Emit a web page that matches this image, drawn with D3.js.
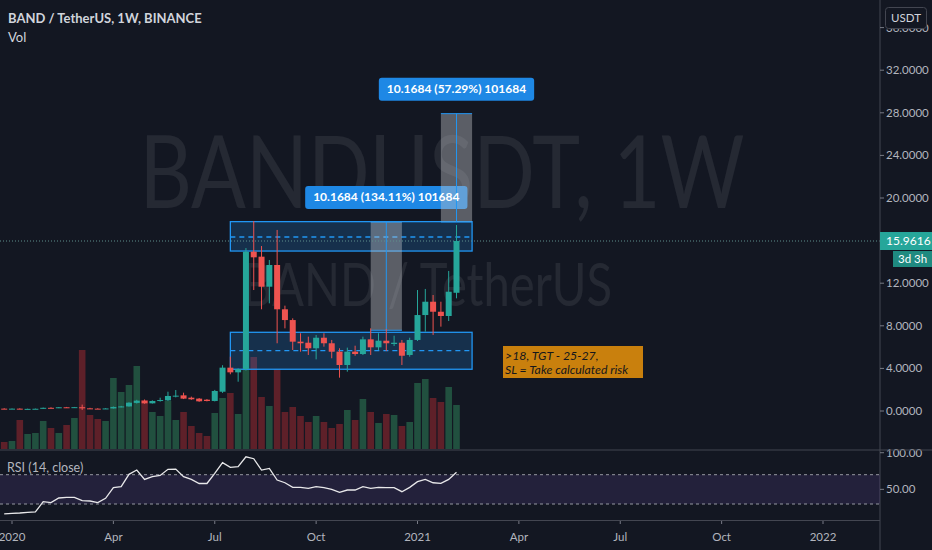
<!DOCTYPE html>
<html><head><meta charset="utf-8">
<script src="https://cdn.jsdelivr.net/npm/d3@7"></script>
<style>html,body{margin:0;padding:0;background:#131722;overflow:hidden}svg{display:block}</style>
</head><body><svg id="c" width="932" height="550"></svg>
<script>
// ---------- DATA ----------
const dates = ["2019-12-30","2020-01-06","2020-01-13","2020-01-20","2020-01-27","2020-02-03","2020-02-10","2020-02-17","2020-02-24","2020-03-02",
"2020-03-09","2020-03-16","2020-03-23","2020-03-30","2020-04-06","2020-04-13","2020-04-20","2020-04-27","2020-05-04","2020-05-11",
"2020-05-18","2020-05-25","2020-06-01","2020-06-08","2020-06-15","2020-06-22","2020-06-29","2020-07-06","2020-07-13","2020-07-20",
"2020-07-27","2020-08-03","2020-08-10","2020-08-17","2020-08-24","2020-08-31","2020-09-07","2020-09-14","2020-09-21","2020-09-28",
"2020-10-05","2020-10-12","2020-10-19","2020-10-26","2020-11-02","2020-11-09","2020-11-16","2020-11-23","2020-11-30","2020-12-07",
"2020-12-14","2020-12-21","2020-12-28","2021-01-04","2021-01-11","2021-01-18","2021-01-25","2021-02-01","2021-02-08"];
const open  = [0.22,0.20,0.22,0.18,0.20,0.21,0.30,0.28,0.35,0.32, 0.36,0.25,0.22,0.20,0.24,0.38,0.43,0.76,0.97,0.72,
               0.94,1.00,1.36,1.47,1.25,1.16,1.06,0.94,1.81,4.07, 3.63,3.94,14.96,14.49,11.67,13.71,9.55,8.54,6.51,6.41,
               5.89,6.88,6.36,5.57,4.32,5.57,5.35,6.73,5.98,6.60, 6.29,6.41,5.26,6.67,9.01,10.26,9.32,8.92,11.10];
const high  = [0.26,0.24,0.25,0.22,0.23,0.32,0.35,0.37,0.38,0.38, 0.60,0.30,0.26,0.26,0.42,0.48,0.82,1.05,1.08,1.00,
               1.25,1.81,1.97,1.72,1.35,1.22,1.12,1.98,4.30,5.10, 4.00,15.30,17.84,15.49,14.18,17.00,9.89,8.70,7.30,6.98,
               7.14,7.30,6.67,5.89,5.95,6.13,6.98,7.76,7.30,7.70, 7.07,6.67,6.88,11.36,11.46,10.89,10.26,13.15,17.46];
const low   = [0.18,0.18,0.17,0.17,0.19,0.20,0.26,0.27,0.30,0.31, 0.10,0.20,0.19,0.19,0.23,0.34,0.41,0.70,0.68,0.70,
               0.88,0.95,1.28,1.12,1.05,0.86,0.90,0.90,1.70,3.45, 2.75,3.80,11.36,9.55,10.11,6.36,7.76,5.73,5.57,5.26,
               4.85,6.04,4.95,3.13,3.69,5.19,5.26,5.26,5.73,5.63, 6.10,4.32,5.10,6.57,7.45,7.14,7.92,8.45,10.58];
const close = [0.20,0.22,0.18,0.20,0.21,0.30,0.28,0.35,0.32,0.36, 0.25,0.22,0.20,0.24,0.38,0.43,0.78,0.97,0.72,0.94,
               1.03,1.41,1.44,1.16,1.10,0.91,0.94,1.88,4.07,3.63, 3.94,14.96,14.43,11.67,13.71,9.55,8.54,6.51,6.36,5.89,
               6.88,6.36,5.57,4.32,5.57,5.35,6.73,5.98,6.60,6.36, 6.41,5.19,6.67,9.01,10.26,9.32,8.92,11.20,15.9616];
const volume = [7,8,29,15,16,28,21,16,24,31, 99,34,30,28,71,57,64,83,49,37,
                33,48,29,37,23,16,13,36,51,56, 35,97,92,52,43,80,37,42,33,27,
                33,27,21,25,39,29,50,37,26,35, 34,23,27,66,70,51,47,62,44];
const rsi = [16.4,17.3,17.7,18.6,19.1,33.2,31.8,38.2,39.1,39.1, 34.5,34.1,31.8,37.7,52.3,53.6,70.5,76.4,63.6,67.3,
             69,77.3,77.7,67.3,63.6,58,58,71.8,86.4,80, 80.9,94.5,91.8,76.4,78.6,62.7,59,52.7,52.7,51.4,
             53.6,52.3,50,45.9,49.1,49.1,53.6,51.4,52.7,52.3, 52.3,46.8,52.7,60.5,63.6,59,58.2,63.6,73.2];
const priceTicks = [0,4,8,12,20,24,28,32,36];
const rsiTicks = [100,50];
const rsiBands = [70,30];
const timeTickDates = ["2020-01-06","2020-04-06","2020-07-06","2020-10-05","2021-01-04","2021-04-05","2021-07-05","2021-10-04","2022-01-03"];
const timeTickLabels = ["2020","Apr","Jul","Oct","2021","Apr","Jul","Oct","2022"];
// support / resistance zones
const zoneStart = ["2020-07-20","2020-07-20"];
const zoneEnd   = ["2021-02-22","2021-02-22"];
const zoneTop    = [17.78, 7.39];
const zoneBottom = [15.02, 3.92];
const zoneMid    = [16.34, 5.66];
// measure ranges
const rangeStart = ["2020-11-23","2021-01-25"];
const rangeEnd   = ["2020-12-21","2021-02-22"];
const rangeMid   = ["2020-12-07","2021-02-08"];
const rangeLow   = [7.58, 17.75];
const rangeHigh  = [17.75, 27.92];
const rangeLabels = ["10.1684 (134.11%) 101684","10.1684 (57.29%) 101684"];
const lastPrice = 15.9616;
const noteLines = [">18, TGT - 25-27,","SL = Take calculated risk"];

// ---------- SETUP ----------
const W=932,H=550, axisX=880;
const svg=d3.select("#c");
const parse=d3.utcParse("%Y-%m-%d");
const FONT="Lato, 'Noto Sans', sans-serif";
const up="#26a69a", dn="#ef5350";
const x=d3.scaleUtc().domain([parse("2020-01-06"),parse("2022-01-03")]).range([12,823]);
const y=d3.scaleLinear().domain([0,36]).range([411,27.6]);
const yv=d3.scaleLinear().domain([0,100]).range([449,349]);
const yr=d3.scaleLinear().domain([30,70]).range([504,474.7]);
const data=dates.map((d,i)=>({d:parse(d),o:open[i],h:high[i],l:low[i],c:close[i],v:volume[i],r:rsi[i]}));

svg.append("rect").attr("width",W).attr("height",H).attr("fill","#131722");

// watermark
svg.append("text").attr("x",442).attr("y",208).attr("text-anchor","middle")
  .attr("font-family",FONT).attr("font-size",100).attr("fill","rgba(255,255,255,0.08)")
  .attr("textLength",605).attr("lengthAdjust","spacingAndGlyphs").text("BANDUSDT, 1W");
svg.append("text").attr("x",427).attr("y",306).attr("text-anchor","middle")
  .attr("font-family",FONT).attr("font-size",60).attr("fill","rgba(255,255,255,0.08)")
  .attr("textLength",370).attr("lengthAdjust","spacingAndGlyphs").text("BAND / TetherUS");

// volume
svg.append("g").selectAll("rect").data(data).join("rect")
  .attr("x",d=>x(d.d)-3.3).attr("width",6.6)
  .attr("y",d=>yv(d.v)).attr("height",d=>yv(0)-yv(d.v))
  .attr("fill",d=>d.c>=d.o?"#21503f":"#5e2029");

// zones
const zg=svg.append("g");
zoneTop.forEach((t,i)=>{
  const x0=x(parse(zoneStart[i])), x1=x(parse(zoneEnd[i]));
  zg.append("rect").attr("x",x0).attr("y",y(t)).attr("width",x1-x0).attr("height",y(zoneBottom[i])-y(t))
    .attr("fill","rgba(33,150,243,0.2)").attr("stroke","#2196f3").attr("stroke-width",1.3);
  zg.append("line").attr("x1",x0).attr("x2",x1).attr("y1",y(zoneMid[i])).attr("y2",y(zoneMid[i]))
    .attr("stroke","#2196f3").attr("stroke-width",1.3).attr("stroke-dasharray","5,4");
});

// ranges
const rg=svg.append("g");
rangeLow.forEach((lo,i)=>{
  const x0=x(parse(rangeStart[i])), x1=x(parse(rangeEnd[i])), xm=x(parse(rangeMid[i]));
  rg.append("rect").attr("x",x0).attr("y",y(rangeHigh[i])).attr("width",x1-x0).attr("height",y(lo)-y(rangeHigh[i]))
    .attr("fill","rgba(190,192,198,0.42)");
  rg.append("line").attr("x1",xm).attr("x2",xm).attr("y1",y(rangeHigh[i])).attr("y2",y(lo)).attr("stroke","#2196f3").attr("stroke-width",1);
  rg.append("line").attr("x1",x0).attr("x2",x1).attr("y1",y(rangeHigh[i])).attr("y2",y(rangeHigh[i])).attr("stroke","#2196f3").attr("stroke-width",1);
  rg.append("line").attr("x1",x0).attr("x2",x1).attr("y1",y(lo)).attr("y2",y(lo)).attr("stroke","#2196f3").attr("stroke-width",1);
  const ly=y(rangeHigh[i])-13;
  const t=rg.append("text").attr("x",xm).attr("y",ly-7.5).attr("text-anchor","middle")
    .attr("font-family",FONT).attr("font-size",12).attr("font-weight",700).attr("fill","#fff").text(rangeLabels[i]);
  const bw=t.node().getComputedTextLength()+16;
  rg.insert("rect","text").attr("x",xm-bw/2).attr("y",ly-23).attr("width",bw).attr("height",23).attr("rx",3).attr("fill","#1e88e5");
});
rg.selectAll("text").raise();

// last price line
svg.append("line").attr("x1",0).attr("x2",axisX).attr("y1",y(lastPrice)).attr("y2",y(lastPrice))
  .attr("stroke","#5f8f8c").attr("stroke-width",1).attr("stroke-dasharray","1,2");

// candles
const cg=svg.append("g");
cg.selectAll("line").data(data).join("line")
  .attr("x1",d=>x(d.d)).attr("x2",d=>x(d.d)).attr("y1",d=>y(d.h)).attr("y2",d=>y(d.l))
  .attr("stroke",d=>d.c>=d.o?up:dn).attr("stroke-width",1);
cg.selectAll("rect").data(data).join("rect")
  .attr("x",d=>x(d.d)-3).attr("width",6)
  .attr("y",d=>y(Math.max(d.o,d.c))).attr("height",d=>Math.max(1,Math.abs(y(d.o)-y(d.c))))
  .attr("fill",d=>d.c>=d.o?up:dn);

// note box
const ng=svg.append("g");
ng.append("rect").attr("x",503).attr("y",346).attr("width",140).attr("height",32).attr("fill","#c9800d");
noteLines.forEach((s,i)=>ng.append("text").attr("x",505).attr("y",359.5+i*14)
  .attr("font-family",FONT).attr("font-size",12.3).attr("font-style","italic").attr("fill","#15171c").text(s));

// separators
svg.append("line").attr("x1",0).attr("x2",axisX).attr("y1",520.5).attr("y2",520.5).attr("stroke","#434651");
svg.append("line").attr("x1",axisX).attr("x2",axisX).attr("y1",0).attr("y2",H).attr("stroke","#434651");

// RSI pane
svg.append("rect").attr("x",0).attr("width",axisX).attr("y",yr(70)).attr("height",yr(30)-yr(70)).attr("fill","rgba(126,87,194,0.16)");
rsiBands.forEach(v=>svg.append("line").attr("x1",0).attr("x2",axisX).attr("y1",yr(v)).attr("y2",yr(v))
  .attr("stroke","#9598a1").attr("stroke-dasharray","3,3").attr("stroke-width",1));
svg.append("path").datum(data).attr("fill","none").attr("stroke","#e8e8ea").attr("stroke-width",1.3)
  .attr("d",d3.line().x(d=>x(d.d)).y(d=>yr(d.r)));
svg.append("text").attr("x",7).attr("y",472).attr("font-family",FONT).attr("font-size",12.5).attr("fill","#b2b5be").text("RSI (14, close)");

// header
svg.append("text").attr("x",8).attr("y",23).attr("font-family",FONT).attr("font-size",13).attr("font-weight",700)
  .attr("fill","#d1d4dc").text("BAND / TetherUS, 1W, BINANCE");
svg.append("text").attr("x",8).attr("y",42).attr("font-family",FONT).attr("font-size",13).attr("fill","#d1d4dc").text("Vol");

// price axis
const pa=svg.append("g");
priceTicks.forEach(p=>{
  pa.append("line").attr("x1",axisX).attr("x2",axisX+4).attr("y1",y(p)).attr("y2",y(p)).attr("stroke","#787b86");
  pa.append("text").attr("x",886).attr("y",y(p)).attr("dy","0.35em").attr("font-family",FONT).attr("font-size",11.5)
    .attr("fill","#b2b5be").text(d3.format(".4f")(p));
});
rsiTicks.forEach(p=>{
  pa.append("line").attr("x1",axisX).attr("x2",axisX+4).attr("y1",yr(p)).attr("y2",yr(p)).attr("stroke","#787b86");
  pa.append("text").attr("x",886).attr("y",yr(p)).attr("dy","0.35em").attr("font-family",FONT).attr("font-size",11.5)
    .attr("fill","#b2b5be").text(d3.format(".2f")(p));
});
svg.append("line").attr("x1",0).attr("x2",W).attr("y1",450).attr("y2",450).attr("stroke","#434651");
// USDT box (covers the top tick label as in the original)
svg.append("rect").attr("x",885.5).attr("y",7.5).attr("width",41).attr("height",21).attr("rx",3).attr("fill","#131722").attr("stroke","#434651");
svg.append("text").attr("x",906).attr("y",18).attr("dy","0.35em").attr("text-anchor","middle").attr("font-family",FONT)
  .attr("font-size",11.5).attr("fill","#d1d4dc").text("USDT");
// last price label
svg.append("rect").attr("x",axisX).attr("y",y(lastPrice)-9).attr("width",W-axisX).attr("height",18).attr("fill",up);
svg.append("text").attr("x",886).attr("y",y(lastPrice)).attr("dy","0.35em").attr("font-family",FONT).attr("font-size",12)
  .attr("fill","#fff").text(d3.format(".4f")(lastPrice));
svg.append("rect").attr("x",893).attr("y",y(lastPrice)+10).attr("width",W-893).attr("height",16).attr("fill","#1f8a80");
svg.append("text").attr("x",898).attr("y",y(lastPrice)+18).attr("dy","0.35em").attr("font-family",FONT).attr("font-size",11.5)
  .attr("fill","#fff").text("3d 3h");

// time axis
const ta=svg.append("g");
timeTickDates.forEach((d,i)=>{
  const tx=x(parse(d));
  ta.append("line").attr("x1",tx).attr("x2",tx).attr("y1",521).attr("y2",524).attr("stroke","#787b86");
  ta.append("text").attr("x",tx).attr("y",541).attr("text-anchor","middle").attr("font-family",FONT).attr("font-size",11.5)
    .attr("fill","#b2b5be").text(timeTickLabels[i]);
});
</script></body></html>
